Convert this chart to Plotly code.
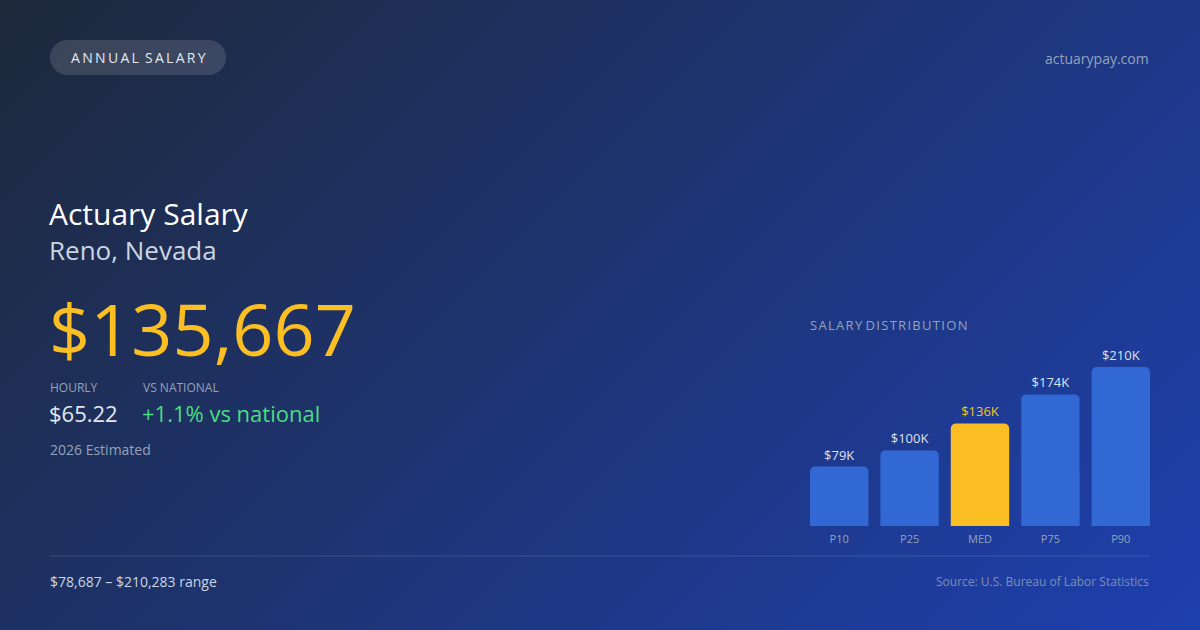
import plotly.graph_objects as go

W, H = 1200, 630

# salary figures
percentiles = ['P10', 'P25', 'MED', 'P75', 'P90']
salaries = [78687, 100000, 135667, 174000, 210283]
median_salary = 135667
hourly = 65.22
vs_national = 1.1

# background gradient corners (bottom row first)
bg_z = [[0.344, 1.0],
        [0.0, 0.656]]

FONT = 'Open Sans'
SLATE = '#94a3b8'
LIGHT = '#cbd5e1'


def px_x(x):
    return x / W


def px_y(y):
    return 1 - y / H


def pill_path(x0, y0, x1, y1, r):
    # rounded rect in paper coords, built from pixel corners
    k = 0.5523 * r
    pts = [
        f"M {px_x(x0 + r)},{px_y(y0)}",
        f"L {px_x(x1 - r)},{px_y(y0)}",
        f"C {px_x(x1 - r + k)},{px_y(y0)} {px_x(x1)},{px_y(y0 + r - k)} {px_x(x1)},{px_y(y0 + r)}",
        f"L {px_x(x1)},{px_y(y1 - r)}",
        f"C {px_x(x1)},{px_y(y1 - r + k)} {px_x(x1 - r + k)},{px_y(y1)} {px_x(x1 - r)},{px_y(y1)}",
        f"L {px_x(x0 + r)},{px_y(y1)}",
        f"C {px_x(x0 + r - k)},{px_y(y1)} {px_x(x0)},{px_y(y1 - r + k)} {px_x(x0)},{px_y(y1 - r)}",
        f"L {px_x(x0)},{px_y(y0 + r)}",
        f"C {px_x(x0)},{px_y(y0 + r - k)} {px_x(x0 + r - k)},{px_y(y0)} {px_x(x0 + r)},{px_y(y0)}",
        "Z",
    ]
    return ' '.join(pts)


def spaced(s, sep='\u2009'):
    return sep.join(s)


fig = go.Figure()

# gradient background
fig.add_trace(go.Heatmap(
    z=bg_z, x=[0, 1], y=[0, 1], zsmooth='best',
    colorscale=[[0, '#1e293b'], [1, '#1e40af']],
    showscale=False, hoverinfo='skip',
    xaxis='x', yaxis='y'
))

bar_colors = ['#fbbf24' if p == 'MED' else '#3168d3' for p in percentiles]
label_colors = ['#fbbf24' if p == 'MED' else '#dbe3ee' for p in percentiles]
labels = [f"${round(v / 1000)}K" for v in salaries]

fig.add_trace(go.Bar(
    x=percentiles, y=salaries,
    marker=dict(color=bar_colors, cornerradius=5, line=dict(width=0)),
    text=labels, textposition='outside', cliponaxis=False,
    textfont=dict(family=FONT, size=13, color=label_colors),
    hoverinfo='skip',
    xaxis='x2', yaxis='y2'
))

bargap = 0.17
scale = 159 / salaries[-1]  # px per dollar

fig.update_layout(
    width=W, height=H,
    margin=dict(l=0, r=0, t=0, b=0),
    paper_bgcolor='#1e293b',
    plot_bgcolor='rgba(0,0,0,0)',
    showlegend=False,
    bargap=bargap,
    font=dict(family=FONT),
    xaxis=dict(domain=[0, 1], range=[0, 1], visible=False, fixedrange=True),
    yaxis=dict(domain=[0, 1], range=[0, 1], visible=False, fixedrange=True),
    xaxis2=dict(domain=[px_x(810), px_x(1150)], anchor='y2',
                range=[-0.5 + bargap / 2, 4.5 - bargap / 2],
                showgrid=False, zeroline=False, showline=False, ticks='',
                ticklabelstandoff=5,
                tickfont=dict(family=FONT, size=11, color=SLATE)),
    yaxis2=dict(domain=[px_y(526), px_y(330)], anchor='x2',
                range=[0, (526 - 330) / scale], visible=False),
)

# pill badge
fig.add_shape(type='path', path=pill_path(50, 40, 226, 75, 17.5),
              xref='paper', yref='paper',
              fillcolor='rgba(255,255,255,0.13)', line=dict(width=0))

# divider
fig.add_shape(type='line', xref='paper', yref='paper',
              x0=px_x(50), x1=px_x(1150), y0=px_y(556), y1=px_y(556),
              line=dict(color='rgba(255,255,255,0.14)', width=1))


def note(text, x, y, size, color, anchor='left'):
    fig.add_annotation(text=text, x=px_x(x), y=px_y(y), xref='paper', yref='paper',
                       xanchor=anchor, yanchor='middle', showarrow=False,
                       font=dict(family=FONT, size=size, color=color))


note(spaced('ANNUAL') + '\u2009 ' + spaced('SALARY'), 138, 57.5, 14, '#e2e8f0', 'center')
note('actuarypay.com', 1151, 58, 14, SLATE, 'right')

note('Actuary Salary', 47, 213, 30, '#ffffff')
note('Reno, Nevada', 47, 250, 26, LIGHT)
note(f"${median_salary:,}", 47, 328, 72, '#fbbf24')

note('HOURLY', 48, 387, 12, SLATE)
note('VS NATIONAL', 141, 387, 12, SLATE)
note(f"${hourly:.2f}", 47, 413, 22, '#e2e8f0')
note(f"+{vs_national}% vs national", 140, 413, 22, '#4ade80')
note('2026 Estimated', 48, 449, 14, SLATE)

note(spaced('SALARY', '\u200a') + ' ' + spaced('DISTRIBUTION', '\u200a'), 808, 325, 13, SLATE)

note(f"${salaries[0]:,} – ${salaries[-1]:,} range", 48, 581, 14, LIGHT)
note('Source: U.S. Bureau of Labor Statistics', 1151, 581, 12, '#7f8fb0', 'right')

fig.write_html("out.html", config=dict(displayModeBar=False),
               post_script="document.body.style.margin='0';")
